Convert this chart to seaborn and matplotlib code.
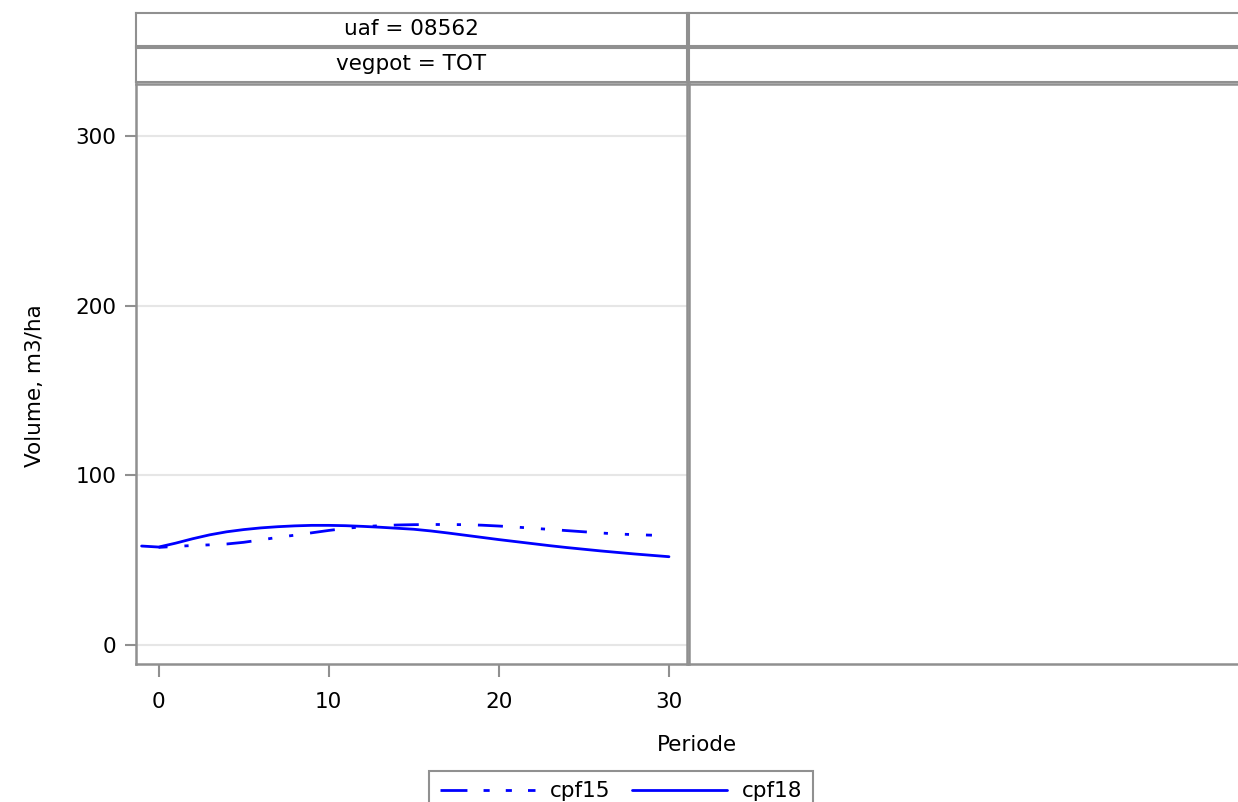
import matplotlib
matplotlib.use("Agg")
import matplotlib.pyplot as plt
from matplotlib.lines import Line2D
import pandas as pd
import seaborn as sns

# data
periode_cpf15 = [0, 1, 2, 3, 4, 5, 6, 7, 8, 9, 10, 11, 12, 13, 14, 15, 16, 17, 18, 19,
                 20, 21, 22, 23, 24, 25, 26, 27, 28, 29]
volume_cpf15 = [57.3, 57.9, 58.4, 58.8, 59.3, 60.3, 61.7, 63.2, 64.5, 65.9,
                67.3, 68.5, 69.5, 70.1, 70.5, 70.7, 70.8, 70.8, 70.7, 70.4,
                69.9, 69.3, 68.6, 67.9, 67.2, 66.5, 65.8, 65.2, 64.8, 64.5]
periode_cpf18 = [-1, 0, 1, 2, 3, 4, 5, 6, 7, 8, 9, 10, 11, 12, 13, 14, 15, 16, 17, 18,
                 19, 20, 21, 22, 23, 24, 25, 26, 27, 28, 29, 30]
volume_cpf18 = [58.1, 57.5, 59.8, 62.4, 64.7, 66.5, 67.8, 68.8, 69.5, 70.0, 70.3,
                70.3, 70.1, 69.7, 69.2, 68.6, 68.0, 67.0, 65.8, 64.5, 63.2, 61.9,
                60.7, 59.5, 58.3, 57.2, 56.2, 55.2, 54.3, 53.4, 52.6, 51.8]
series = ["cpf15", "cpf18"]
xticks = [0, 10, 20, 30]
yticks = [0, 100, 200, 300]
strip_labels = ["uaf = 08562", "vegpot = TOT"]

df = pd.concat(
    [
        pd.DataFrame({"Periode": periode_cpf15, "Volume": volume_cpf15, "courbe": "cpf15"}),
        pd.DataFrame({"Periode": periode_cpf18, "Volume": volume_cpf18, "courbe": "cpf18"}),
    ],
    ignore_index=True,
)

sns.set_theme(style="white")
plt.rcParams["font.family"] = ["DejaVu Sans"]
plt.rcParams["font.size"] = 15.5
plt.rcParams["text.color"] = "black"
plt.rcParams["axes.labelcolor"] = "black"

grey = "#909090"
blue = "#0000ff"
W, H = 1238, 802
fig = plt.figure(figsize=(W / 100, H / 100), dpi=100)


def fx(px):
    return px / W


def fy(py):
    return 1 - py / H


top_px, bot_px = 84, 664
ax = fig.add_axes([fx(136), fy(bot_px), fx(687 - 136), (bot_px - top_px) / H])
ax2 = fig.add_axes([fx(689), fy(bot_px), fx(551), (bot_px - top_px) / H])

lw = 2.0
dash15 = (9, 6.1, 1.5, 6.1, 1.5, 6.1)
sns.lineplot(
    data=df, x="Periode", y="Volume", hue="courbe", style="courbe",
    palette={"cpf15": blue, "cpf18": blue},
    dashes={"cpf15": dash15, "cpf18": ""},
    estimator=None, sort=False, linewidth=lw, legend=False, ax=ax,
)
ax.lines[0].set_linestyle((5.8, dash15))

ax.set_xlim(-1.33, 31.06)
ax.set_ylim(-11.5, 330.7)
ax.set_xticks(xticks)
ax.set_yticks(yticks)
ax.set_xlabel("")
ax.set_ylabel("")
ax.yaxis.grid(True, color="#e6e6e6", linewidth=1.5)
ax.xaxis.grid(False)
ax.set_axisbelow(True)
ax.tick_params(axis="both", direction="out", width=1.5, color=grey,
               labelsize=15.5, labelcolor="black", bottom=True, left=True)
ax.tick_params(axis="y", length=8, pad=6)
ax.tick_params(axis="x", length=9, pad=11)

ax2.set_xticks([])
ax2.set_yticks([])
for a in (ax, ax2):
    for s in a.spines.values():
        s.set_color(grey)
        s.set_linewidth(1.8)

# strip headers above each panel
strips = [(12.5, 45.5), (47.5, 81.5)]
for panel, (left, width) in enumerate([(136, 551), (689, 551)]):
    for (t, b), lab in zip(strips, strip_labels):
        sax = fig.add_axes([fx(left), fy(b), fx(width), (b - t) / H])
        sax.set_xticks([])
        sax.set_yticks([])
        for s in sax.spines.values():
            s.set_color(grey)
            s.set_linewidth(1.5)
        if panel == 0:
            sax.text(0.5, 0.5, lab, ha="center", va="center", fontsize=15.5,
                     color="black", transform=sax.transAxes)

fig.text(fx(697), fy(745), "Periode", ha="center", va="center", fontsize=15.5)
fig.text(fx(35), fy(386), "Volume, m3/ha", rotation=90, ha="center", va="center",
         fontsize=15.5)

handles = [
    Line2D([], [], color=blue, linewidth=lw,
           linestyle=(0, (9.7, 5.8, 2.2, 5.8, 2.2, 5.8))),
    Line2D([], [], color=blue, linewidth=lw),
]
leg = fig.legend(
    handles, series, loc="upper left",
    bbox_to_anchor=(fx(429.3), fy(770.7)), bbox_transform=fig.transFigure,
    ncol=2, frameon=True, fancybox=False, framealpha=1, edgecolor=grey,
    borderpad=0.5, handlelength=4.4, handletextpad=0.7, columnspacing=1.0,
    borderaxespad=0, fontsize=15.5,
)
leg.get_frame().set_linewidth(1.5)
for t in leg.get_texts():
    t.set_color("black")

fig.savefig("out.png", dpi=100)
